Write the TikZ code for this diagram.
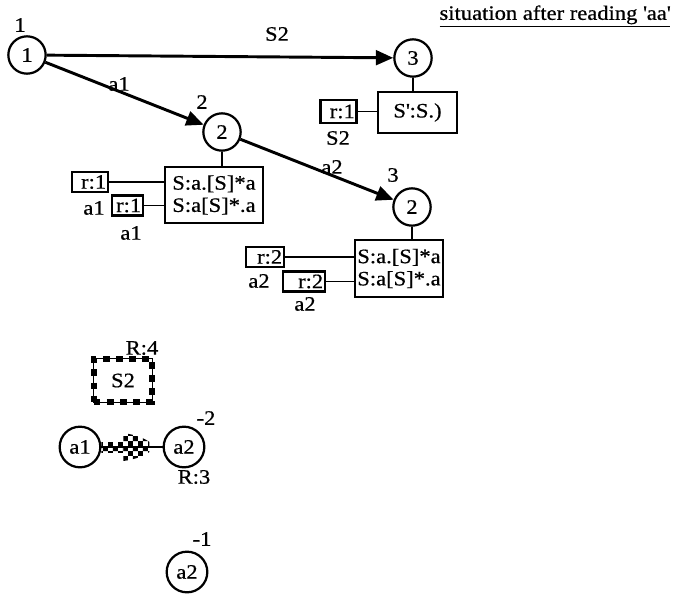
\documentclass[tikz,border=0pt]{standalone}
\usepackage{fontspec}
\setmainfont{Liberation Serif}[FakeStretch=1.1, FakeBold=0.6]
\usepackage{tikz}
\usetikzlibrary{arrows.meta, patterns, calc}

% coarse checker for the S2 rule and its link
\pgfdeclarepatternformonly{coarsecheck}{\pgfpointorigin}{\pgfqpoint{8.4pt}{8.4pt}}{\pgfqpoint{8.4pt}{8.4pt}}{%
  \pgfpathrectangle{\pgfpointorigin}{\pgfqpoint{4.2pt}{4.2pt}}%
  \pgfpathrectangle{\pgfqpoint{4.2pt}{4.2pt}}{\pgfqpoint{4.2pt}{4.2pt}}%
  \pgfusepath{fill}}

\begin{document}
\begin{tikzpicture}[
  x=0.03cm, y=-0.03cm,
  font=\fontsize{17.5}{19}\selectfont,
  state/.style={circle, draw, line width=1.9pt, minimum size=1.12cm, inner sep=0pt},
  sym/.style={circle, draw, line width=1.9pt, minimum size=1.22cm, inner sep=0pt},
  item/.style={rectangle, draw, line width=2pt, inner sep=0pt, align=left},
  rbox/.style={rectangle, draw, line width=2.1pt, inner xsep=1.5pt, inner ysep=0pt, minimum height=0.6cm, text width=#1, align=right},
  lbl/.style={inner sep=0pt},
  link/.style={line width=1.7pt},
  arr/.style={-{Triangle[length=0.52cm, width=0.44cm]}, line width=2.5pt},
  rulebox/.style={rectangle, draw, line width=0.7pt, inner sep=0pt, minimum width=1.75cm, minimum height=1.3cm,
    postaction={draw, line width=5.5pt, dash pattern=on 5.6pt off 5.6pt}}
]
\useasboundingbox (0,0) rectangle (678,593);

% title
\node[lbl] (title) at (555,16) {\underline{situation after reading \textquotesingle aa\textquotesingle}};

% states
\node[state] (s1) at (27,55) {1};
\node[state] (s3) at (413,58) {3};
\node[state] (s2) at (222,132) {2};
\node[state] (s2b) at (412,207) {2};

\node[lbl] (c1) at (20,25) {1};
\node[lbl] (c2) at (202,102) {2};
\node[lbl] (c3) at (393,175) {3};

% item sets
\node[item, minimum width=2.37cm, minimum height=1.23cm] (i3) at (417.5,112.5) {S\textquotesingle:S.)};
\node[item, minimum width=2.94cm, minimum height=1.68cm] (i2) at (214,195) {S:a.[S]*a\\S:a[S]*.a};
\node[item, minimum width=2.64cm, minimum height=1.71cm] (i2b) at (399,268.5) {S:a.[S]*a\\S:a[S]*.a};

% reductions
\node[rbox=0.98cm, minimum height=0.69cm] (r3) at (338.5,111.5) {r:1};
\node[rbox=0.97cm] (r2a) at (90,182) {r:1};
\node[rbox=0.82cm] (r2b) at (127.5,205.5) {r:1};
\node[rbox=1.03cm] (r4a) at (265,257) {r:2};
\node[rbox=1.15cm] (r4b) at (304,281.5) {r:2};

\node[lbl] (l3) at (338,138) {S2};
\node[lbl] (l2a) at (94,208) {a1};
\node[lbl] (l2b) at (131,233) {a1};
\node[lbl] (l4a) at (259,281) {a2};
\node[lbl] (l4b) at (305,304) {a2};

\draw[link] (s3.south) -- (s3.south |- i3.north);
\draw[link] (s2.south) -- (s2.south |- i2.north);
\draw[link] (s2b.south) -- (s2b.south |- i2b.north);
\draw[link] (r3.east) -- (r3.east -| i3.west);
\draw[link] (r2a.east) -- (r2a.east -| i2.west);
\draw[link] (r2b.east) -- (r2b.east -| i2.west);
\draw[link] (r4a.east) -- (r4a.east -| i2b.west);
\draw[link] (r4b.east) -- (r4b.east -| i2b.west);

% transitions
\draw[arr] (s1) -- (s3);
\node[lbl] (e13) at (277,34) {S2};
\draw[arr] (s1) -- (s2);
\node[lbl] (e12) at (119,84) {a1};
\draw[arr] (s2) -- (s2b);
\node[lbl] (e22) at (332,167) {a2};

% stack part
\node[rulebox] (rule) at (123,380.5) {S2};
\node[lbl] (rl) at (142,348) {R:4};

\node[sym] (a1) at (80,447) {a1};
\node[sym] (a2) at (184,447) {a2};
\node[lbl] (m2) at (206,418) {-2};
\node[lbl] (rr) at (194,477) {R:3};

\draw[line width=0.9pt] (a1.east) -- (a2.west);
\coordinate (hd) at ($(a1.east)+(22,0)$);
\path[pattern=coarsecheck] (a1.east) ++(0,-5) rectangle ($(hd)+(0,5)$);
\path[pattern=coarsecheck] ($(hd)+(0,-14)$) .. controls ($(hd)+(14,-12)$) and ($(hd)+(22,-8)$) .. ($(hd)+(26,-5)$)
  -- ($(hd)+(26,5)$) .. controls ($(hd)+(22,8)$) and ($(hd)+(14,12)$) .. ($(hd)+(0,14)$) -- cycle;

\node[sym] (a3) at (187,572) {a2};
\node[lbl] (m1) at (202,539) {-1};
\end{tikzpicture}
\end{document}
